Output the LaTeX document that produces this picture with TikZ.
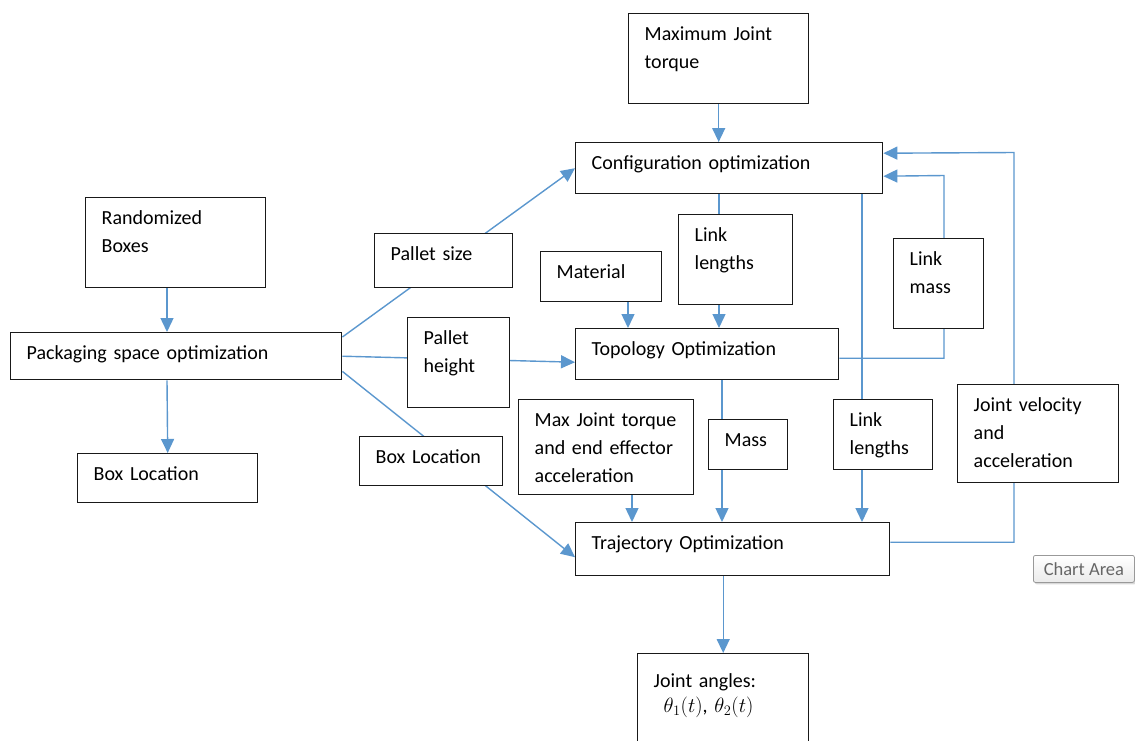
\documentclass[tikz,border=0pt]{standalone}
\usepackage{fontspec}
\setmainfont{Carlito}
\usetikzlibrary{arrows.meta,backgrounds,shadows}

\definecolor{ConnBlue}{RGB}{91,151,206}
\newlength{\BoxIndent}
\setlength{\BoxIndent}{16pt}

\begin{document}
\begin{tikzpicture}
    [
        x=1pt, y=-1pt,
        font=\fontsize{20}{28}\selectfont,
        Box/.code 2 args={%
            \pgfmathsetmacro\BoxDepth{#2-27}%
            \pgfkeysalso{rectangle,draw=black!90,line width=1.4pt,fill=white,anchor=north west,
                inner sep=0pt,text width=#1pt,text height=27pt,text depth=\BoxDepth pt,align=left,
                execute at begin node={\leftskip=\BoxIndent}}},
        Conn/.style={draw=ConnBlue,line width=1.4pt,-{Triangle[length=14pt,width=13pt]}},
        ChartTip/.style={rectangle,rounded corners=2pt,draw=black!40,line width=0.8pt,
            top color=white,bottom color=black!8,anchor=north west,inner sep=0pt,
            minimum width=101pt,minimum height=27pt,text=black!60,font=\fontsize{18.5}{20}\selectfont,
            drop shadow={shadow xshift=1.5pt,shadow yshift=-2pt,opacity=0.3}}
    ]
    \useasboundingbox (0,0) rectangle (1135,740);

    % packaging side
    \node[Box={180}{90}] (random) at (85,197) {Randomized\\Boxes};
    \node[Box={331}{47}] (packaging) at (10,332) {Packaging space optimization};
    \node[Box={180}{49}] (boxloc1) at (77,453) {Box Location};

    % inputs
    \node[Box={180}{90}] (maxtorque) at (628,13) {Maximum Joint\\torque};
    \node[Box={138}{54}] (pallsize) at (374,233) {Pallet size};
    \node[Box={102}{90}] (pallheight) at (407,317) {Pallet\\height};
    \node[Box={143}{49}] (boxloc2) at (359,436) {Box Location};
    \node[Box={121}{50}] (material) at (540,251) {Material};
    \node[Box={114}{90}] (linklen1) at (678,214) {Link\\lengths};
    \node[Box={90}{90}] (linkmass) at (893,238) {Link\\mass};
    \node[Box={175}{95}] (maxacc) at (518,399) {Max Joint torque\\and end effector\\acceleration};
    \node[Box={79}{50}] (mass) at (708,419) {Mass};
    \node[Box={99}{70}] (linklen2) at (833,399) {Link\\lengths};
    \node[Box={161}{98}] (jointvel) at (957,384) {Joint velocity\\and\\acceleration};

    % optimization stages
    \node[Box={307}{51}] (config) at (575,142) {Configuration optimization};
    \node[Box={263}{51}] (topology) at (575,328) {Topology Optimization};
    \node[Box={314}{53}] (trajectory) at (575,522) {Trajectory Optimization};
    \node[Box={171}{100},text height=34pt,text depth=66pt] (jointang) at (637,653)
        {Joint angles:\\[-3pt]\hspace*{10pt}$\theta_1(t)$, $\theta_2(t)$};

    \node[ChartTip] (chartarea) at (1033,555) {Chart Area};

    \coordinate (colpack) at (167,0);
    \coordinate (colmat) at (628,0);
    \coordinate (collink) at (719,0);
    \coordinate (colacc) at (632,0);
    \coordinate (colmass) at (722,0);
    \coordinate (colll) at (862,0);
    \coordinate (massturn) at (944,175.5);
    \coordinate (velturn) at (1014,152.5);

    \begin{scope}[on background layer]
        \draw[Conn] (colpack |- random.south) -- (colpack |- packaging.north);
        \draw[Conn] (colpack |- packaging.south) -- (boxloc1.north);
        \draw[Conn] ([yshift=-5pt]packaging.north east) -- (config.west);
        \draw[Conn] (packaging.east) -- ([yshift=-8pt]topology.west);
        \draw[Conn] ([yshift=9pt]packaging.south east) -- ([yshift=-8pt]trajectory.west);
        \draw[Conn] (maxtorque.south) -- (maxtorque.south |- config.north);
        \draw[Conn] (colmat |- material.south) -- (colmat |- topology.north);
        \draw[Conn] (collink |- config.south) -- (collink |- topology.north);
        \draw[Conn] (colacc |- maxacc.south) -- (colacc |- trajectory.north);
        \draw[Conn] (colmass |- topology.south) -- (colmass |- trajectory.north);
        \draw[Conn] (colll |- config.south) -- (colll |- trajectory.north);
        \draw[Conn] ([yshift=-4pt]topology.east) -| (massturn) -- ([yshift=-8pt]config.east);
        \draw[Conn] ([yshift=7pt]trajectory.east) -| (velturn) -- ([yshift=15pt]config.east);
        \draw[Conn] (trajectory.south -| jointang.north) -- (jointang.north);
    \end{scope}
\end{tikzpicture}
\end{document}
